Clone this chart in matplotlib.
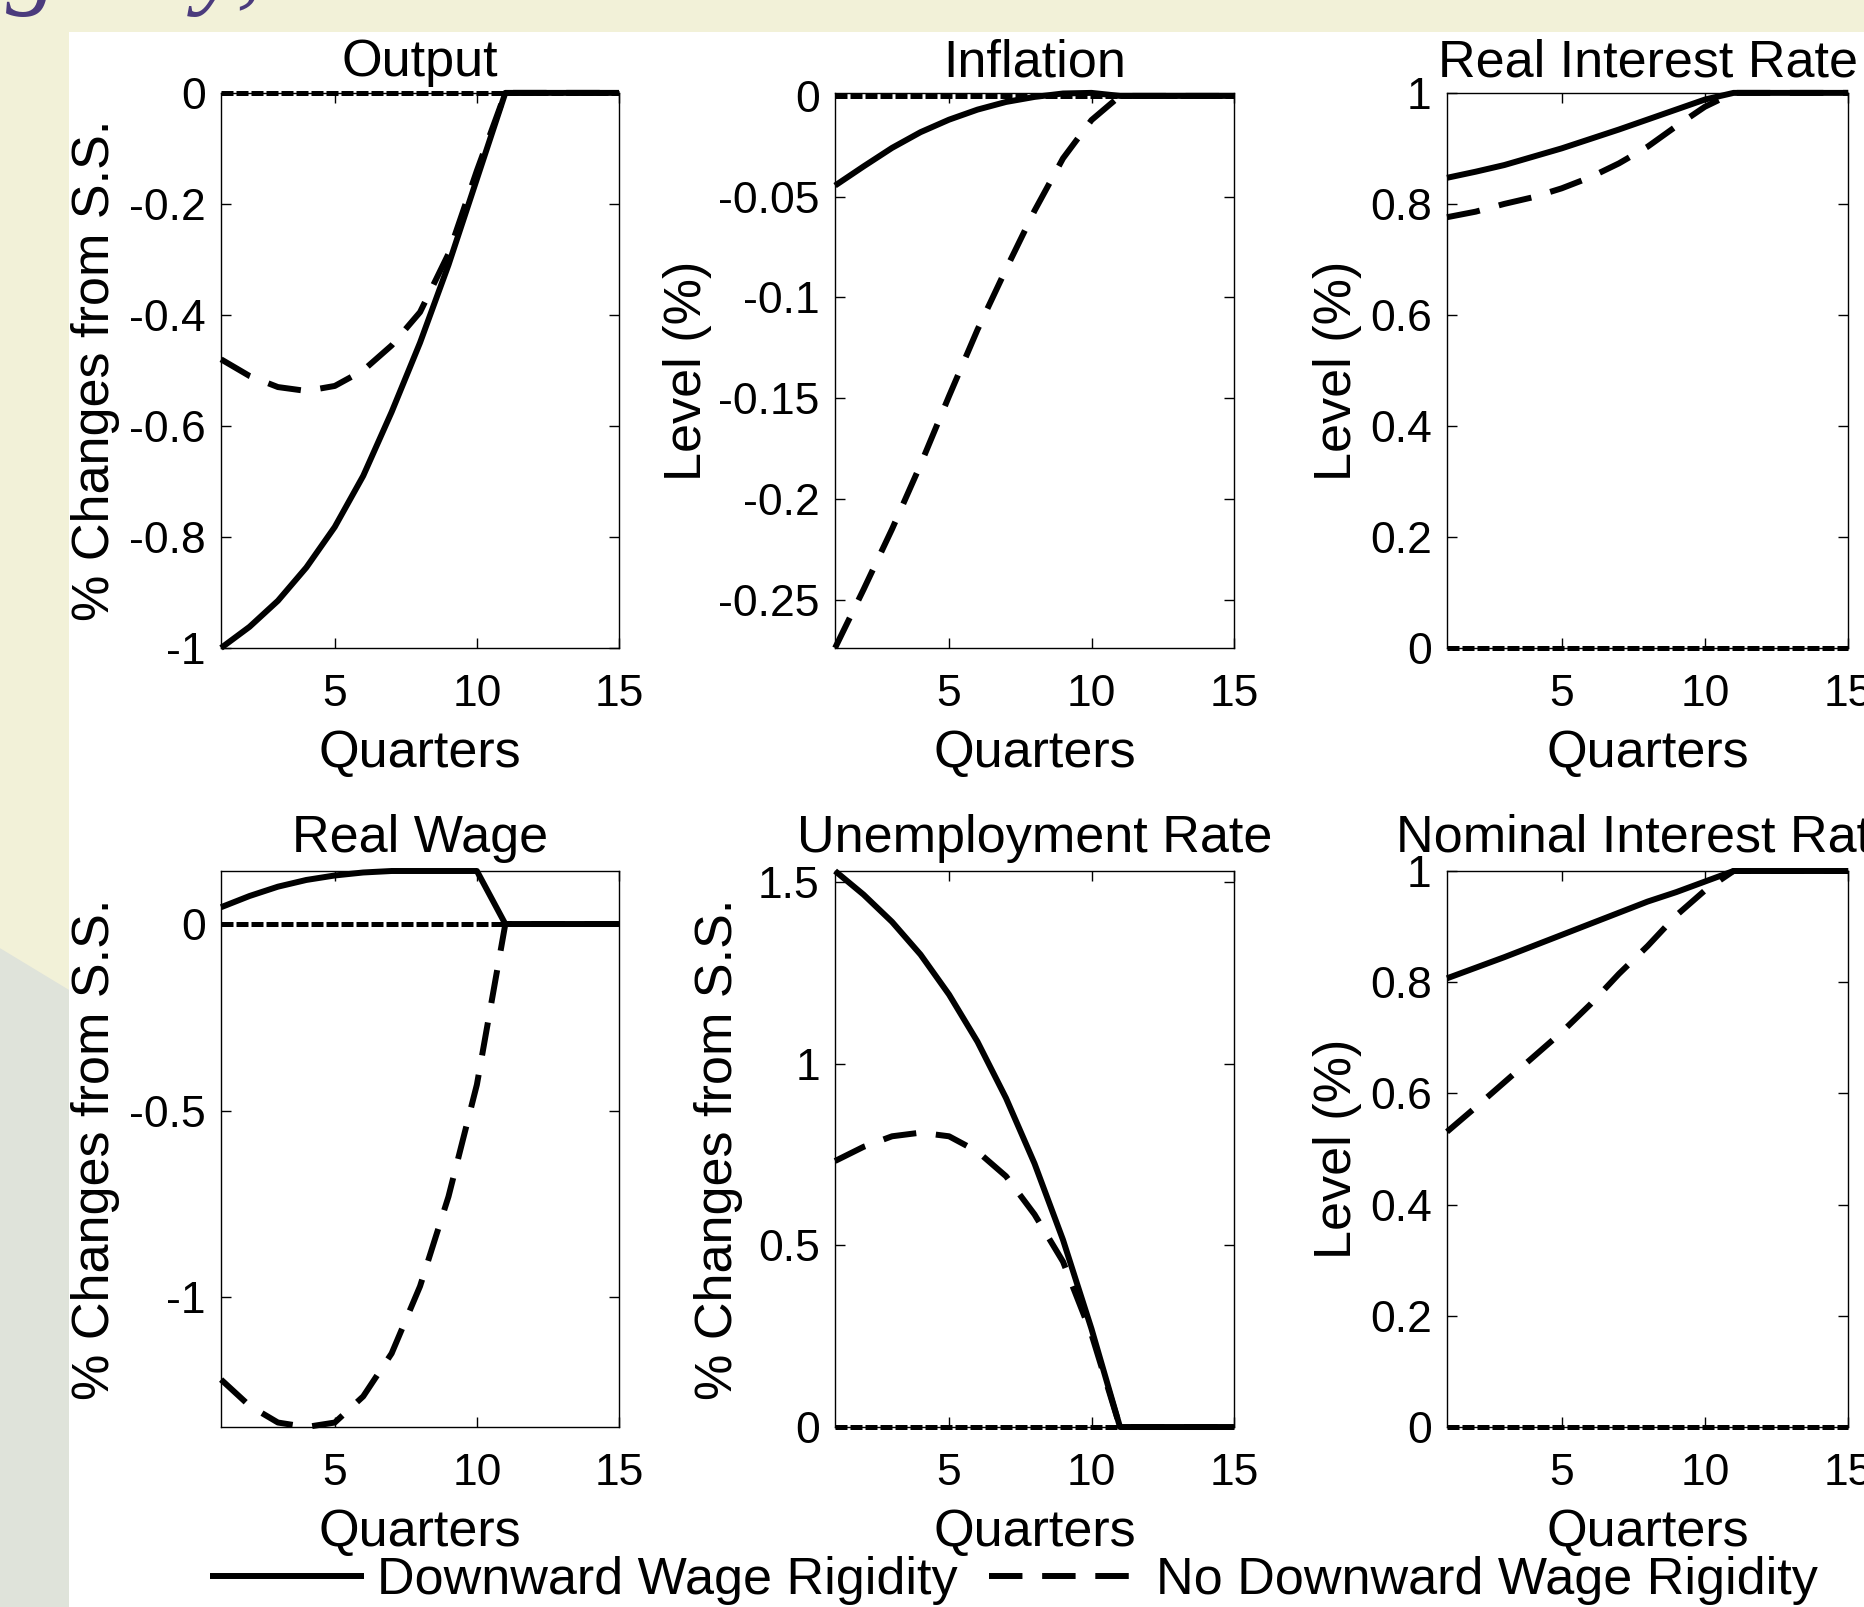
import numpy as np
import matplotlib.pyplot as plt
from matplotlib.patches import Rectangle, Polygon
from matplotlib.ticker import FormatStrFormatter

plt.rcParams['font.family'] = ['Liberation Sans', 'DejaVu Sans']
plt.rcParams['axes.unicode_minus'] = False

# quarters after the shock
quarters = np.arange(1, 16)
steady_state = np.zeros(len(quarters))

# impulse responses
output_dwr = [-1.0, -0.962, -0.915, -0.855, -0.782, -0.69, -0.575, -0.45, -0.31, -0.155, 0, 0, 0, 0, 0]
output_ndwr = [-0.48, -0.51, -0.53, -0.537, -0.528, -0.50, -0.455, -0.395, -0.29, -0.14, 0, 0, 0, 0, 0]

inflation_dwr = [-0.0445, -0.035, -0.0258, -0.018, -0.0118, -0.0068, -0.003, -0.0005, 0.0012, 0.0015, 0, 0, 0, 0, 0]
inflation_ndwr = [-0.274, -0.245, -0.215, -0.183, -0.149, -0.116, -0.086, -0.057, -0.031, -0.012, 0, 0, 0, 0, 0]

rir_dwr = [0.847, 0.858, 0.87, 0.885, 0.90, 0.917, 0.934, 0.952, 0.97, 0.988, 1, 1, 1, 1, 1]
rir_ndwr = [0.776, 0.786, 0.80, 0.812, 0.828, 0.848, 0.873, 0.903, 0.94, 0.975, 1, 1, 1, 1, 1]

wage_dwr = [0.045, 0.075, 0.10, 0.118, 0.13, 0.138, 0.142, 0.142, 0.142, 0.142, 0, 0, 0, 0, 0]
wage_ndwr = [-1.22, -1.29, -1.335, -1.347, -1.335, -1.265, -1.15, -0.97, -0.73, -0.43, 0, 0, 0, 0, 0]

unemp_dwr = [1.53, 1.465, 1.39, 1.30, 1.19, 1.06, 0.905, 0.725, 0.515, 0.27, 0, 0, 0, 0, 0]
unemp_ndwr = [0.732, 0.771, 0.80, 0.81, 0.80, 0.758, 0.69, 0.585, 0.455, 0.255, 0, 0, 0, 0, 0]

nir_dwr = [0.807, 0.826, 0.845, 0.865, 0.885, 0.905, 0.925, 0.945, 0.962, 0.981, 1, 1, 1, 1, 1]
nir_ndwr = [0.531, 0.575, 0.62, 0.665, 0.71, 0.76, 0.815, 0.865, 0.92, 0.965, 1, 1, 1, 1, 1]

titles = ["Output", "Inflation", "Real Interest Rate",
          "Real Wage", "Unemployment Rate", "Nominal Interest Rate"]
ylabels = ["% Changes from S.S.", "Level (%)", "Level (%)",
           "% Changes from S.S.", "% Changes from S.S.", "Level (%)"]
solid_series = [output_dwr, inflation_dwr, rir_dwr, wage_dwr, unemp_dwr, nir_dwr]
dashed_series = [output_ndwr, inflation_ndwr, rir_ndwr, wage_ndwr, unemp_ndwr, nir_ndwr]
yticks = [[-1, -0.8, -0.6, -0.4, -0.2, 0],
          [-0.25, -0.2, -0.15, -0.1, -0.05, 0],
          [0, 0.2, 0.4, 0.6, 0.8, 1],
          [-1, -0.5, 0],
          [0, 0.5, 1, 1.5],
          [0, 0.2, 0.4, 0.6, 0.8, 1]]
xticks = [5, 10, 15]
legend_labels = ["Downward Wage Rigidity", "No Downward Wage Rigidity"]

# layout (figure fractions)
lefts = [0.1186, 0.448, 0.7763, 0.1186, 0.448, 0.7763]
widths = [0.2135, 0.214, 0.2152, 0.2135, 0.214, 0.2152]
bottoms = [0.5968, 0.5968, 0.5968, 0.112, 0.112, 0.112]
heights = [0.3454, 0.3454, 0.3454, 0.346, 0.346, 0.346]
ylabel_x = [-0.315, -0.371, -0.272, -0.315, -0.291, -0.272]
title_pad = [12, 12, 12, 14, 14, 14]

fig = plt.figure(figsize=(18.64, 16.07), dpi=100, facecolor='#f2f1d8')

# slide decoration behind the figure
fig.add_artist(Polygon([(0, 0), (0, 0.41), (0.037, 0.384), (0.037, 0)],
                       closed=True, transform=fig.transFigure,
                       facecolor='#dfe3da', edgecolor='none', zorder=0))
fig.add_artist(Rectangle((0.037, 0), 0.963, 0.98, transform=fig.transFigure,
                         facecolor='white', edgecolor='none', zorder=0))
fig.text(0.003, 1.003, "gidity,", color='#4b3b7d', fontsize=75,
         family='Liberation Serif', style='italic', va='baseline', ha='left')

handles = None
for i in range(6):
    ax = fig.add_axes([lefts[i], bottoms[i], widths[i], heights[i]])
    ax.set_facecolor('white')
    ax.plot(quarters, steady_state, color='black', lw=3.6,
            linestyle=(0, (2.4, 0.6)), clip_on=False, zorder=2)
    h1, = ax.plot(quarters, solid_series[i], color='black', lw=4.3,
                  solid_capstyle='butt', clip_on=False, zorder=3)
    h2, = ax.plot(quarters, dashed_series[i], color='black', lw=4.3,
                  linestyle=(0, (5.6, 3.3)), clip_on=False, zorder=3)
    if handles is None:
        handles = [h1, h2]

    lo = min(min(solid_series[i]), min(dashed_series[i]), 0)
    hi = max(max(solid_series[i]), max(dashed_series[i]), 0)
    ax.set_xlim(quarters[0], quarters[-1])
    ax.set_ylim(lo, hi)
    ax.set_xticks(xticks)
    ax.set_yticks(yticks[i])
    ax.yaxis.set_major_formatter(FormatStrFormatter('%g'))

    ax.tick_params(axis='both', direction='in', length=7, width=1,
                   top=True, right=True, labelsize=32)
    ax.tick_params(axis='x', pad=19)
    ax.tick_params(axis='y', pad=11)
    for sp in ax.spines.values():
        sp.set_linewidth(1.0)

    ax.set_title(titles[i], fontsize=37.5, pad=title_pad[i])
    ax.set_xlabel("Quarters", fontsize=37.5)
    ax.xaxis.set_label_coords(0.5, -0.19)
    ax.xaxis.label.set_verticalalignment('center')
    ax.set_ylabel(ylabels[i], fontsize=37.5)
    ax.yaxis.set_label_coords(ylabel_x[i], 0.5)
    ax.yaxis.label.set_verticalalignment('center')
    ax.yaxis.label.set_horizontalalignment('center')

fig.legend(handles=handles, labels=legend_labels, loc='center',
           bbox_to_anchor=(0.544, 0.0165), ncol=2, frameon=False,
           fontsize=37.5, handlelength=2.95, handletextpad=0.25,
           columnspacing=0.6, borderpad=0)

fig.savefig("out.png", dpi=100, facecolor=fig.get_facecolor())
